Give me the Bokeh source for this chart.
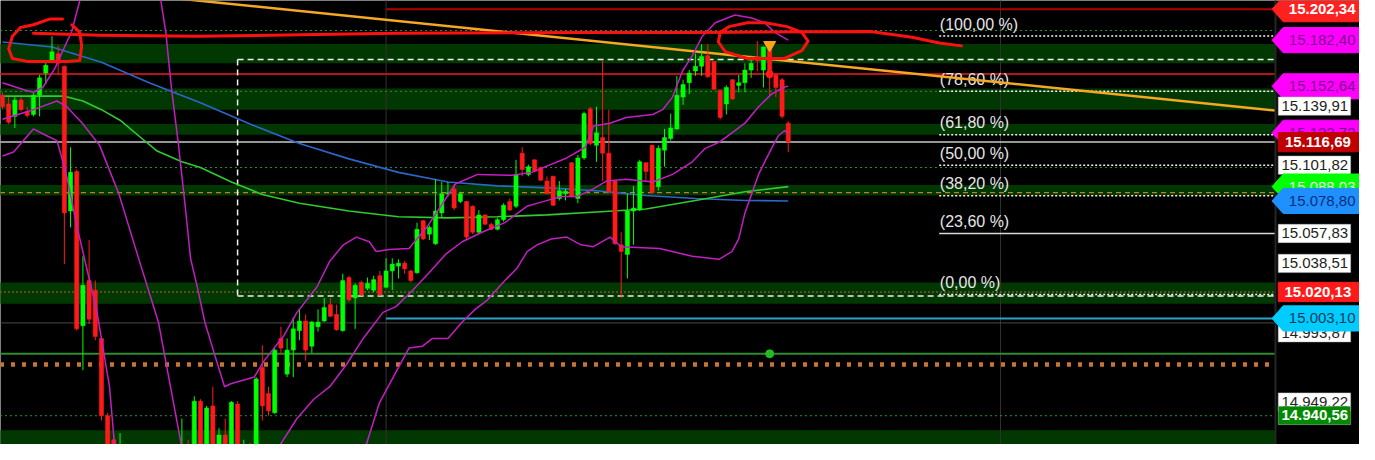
from bokeh.plotting import figure
from bokeh.models import Range1d, ColumnDataSource
from bokeh.embed import file_html
from bokeh.resources import INLINE
from bokeh.core.properties import value

# ---------------- candle data (price) ----------------
opens = [
    15146.9, 15141.3, 15133.3, 15143.8, 15136.4, 15134.5, 15146.9, 15161.2, 15168.7, 15173.7,
    15165.6, 15072.3, 15097.8, 14998.3, 15027.5, 15021.3, 14990.2, 14940.4, 14924.9, 14915.6,
    14918.7, 14910.6, 14906.2, 14911.8, 14905.6, 14903.1, 14909.3, 14904.4, 14911.8, 14915.6,
    14920.5, 14915.6, 14949.8, 14915.6, 14946.7, 14918.7, 14928.0, 14915.6, 14947.9, 14918.7,
    14920.5, 14915.6, 14971.5, 14954.7, 14942.3, 14990.2, 14967.2, 14982.7, 14995.2, 15001.4,
    14985.2, 14997.7, 15001.4, 15012.0, 15005.7, 14995.2, 15029.4, 15016.3, 15026.3, 15022.5,
    15021.3, 15030.6, 15023.2, 15033.7, 15036.8, 15038.7, 15033.7, 15032.5, 15066.1, 15057.4,
    15051.2, 15071.1, 15083.5, 15086.6, 15078.5, 15078.5, 15075.4, 15058.6, 15069.8, 15063.6,
    15060.5, 15066.7, 15078.5, 15075.4, 15109.6, 15095.9, 15105.3, 15100.3, 15091.6, 15094.7,
    15080.4, 15083.5, 15103.4, 15080.4, 15106.5, 15138.2, 15114.6, 15119.6, 15109.6, 15091.6,
    15050.5, 15044.3, 15072.3, 15072.9, 15103.4, 15114.6, 15087.9, 15111.5, 15119.0, 15125.2,
    15145.7, 15155.0, 15162.5, 15165.6, 15172.4, 15168.7, 15150.1, 15141.3, 15156.9, 15153.2,
    15155.0, 15163.1, 15170.6, 15163.1, 15176.8, 15160.0, 15156.9, 15128.9]
highs = [
    15148.8, 15145.7, 15145.7, 15145.7, 15139.5, 15148.2, 15160.0, 15169.3, 15184.9, 15178.7,
    15166.0, 15113.4, 15099.0, 15043.1, 15053.6, 15027.5, 14991.4, 14942.3, 14928.0, 14929.2,
    14921.8, 14915.6, 14915.6, 14915.6, 14910.6, 14912.4, 14914.3, 14915.6, 14918.7, 14938.6,
    14924.9, 14952.9, 14951.0, 14946.7, 14959.1, 14932.4, 14938.6, 14949.8, 14949.8, 14924.9,
    14923.0, 14965.3, 14985.8, 14959.1, 14984.0, 14997.7, 14990.2, 15003.9, 15008.9, 15005.7,
    15001.4, 15008.9, 15016.3, 15016.3, 15012.0, 15031.9, 15030.6, 15025.7, 15027.5, 15029.4,
    15030.6, 15033.7, 15041.8, 15041.8, 15041.2, 15040.0, 15034.4, 15064.8, 15066.5, 15063.0,
    15092.8, 15091.0, 15091.0, 15089.7, 15084.7, 15078.8, 15076.0, 15072.9, 15070.2, 15064.8,
    15067.9, 15077.3, 15080.4, 15105.3, 15113.4, 15102.2, 15105.6, 15100.9, 15094.7, 15095.0,
    15091.6, 15086.6, 15103.8, 15108.4, 15136.4, 15139.5, 15139.5, 15169.3, 15137.6, 15092.0,
    15058.6, 15083.5, 15088.5, 15105.3, 15103.8, 15115.0, 15114.6, 15125.2, 15135.1, 15159.4,
    15156.9, 15163.1, 15173.7, 15179.9, 15179.9, 15169.0, 15150.5, 15153.2, 15157.3, 15160.0,
    15167.5, 15172.4, 15181.8, 15178.4, 15178.0, 15161.2, 15158.1, 15130.1]
lows = [
    15138.2, 15128.3, 15125.8, 15136.4, 15132.6, 15133.3, 15133.3, 15153.8, 15167.5, 15160.0,
    15038.1, 15061.7, 14995.2, 14969.7, 14999.5, 14989.0, 14937.3, 14915.6, 14915.6, 14912.4,
    14909.3, 14903.1, 14901.9, 14903.1, 14900.0, 14900.0, 14901.9, 14900.0, 14909.3, 14912.4,
    14910.6, 14912.4, 14912.4, 14912.4, 14915.6, 14915.6, 14909.3, 14912.4, 14912.4, 14909.3,
    14906.2, 14912.4, 14937.3, 14940.4, 14941.7, 14979.6, 14965.3, 14965.3, 14989.0, 14975.9,
    14980.9, 14994.6, 15000.8, 15003.9, 14995.2, 14994.6, 15013.8, 14996.4, 15017.6, 15021.3,
    15020.1, 15017.6, 15022.5, 15021.3, 15028.8, 15031.9, 15026.3, 15031.9, 15053.6, 15053.6,
    15050.5, 15067.9, 15081.6, 15072.9, 15077.3, 15053.6, 15057.4, 15057.4, 15063.4, 15059.9,
    15059.9, 15065.5, 15072.3, 15074.2, 15094.7, 15094.7, 15097.2, 15091.6, 15083.2, 15075.4,
    15079.1, 15079.1, 15081.2, 15077.3, 15105.3, 15114.6, 15104.0, 15091.6, 15083.5, 15050.5,
    15016.3, 15028.8, 15050.5, 15072.3, 15091.6, 15083.5, 15085.4, 15100.9, 15117.7, 15124.6,
    15140.7, 15147.6, 15159.4, 15159.4, 15158.1, 15150.1, 15131.4, 15134.5, 15143.8, 15148.8,
    15148.8, 15158.1, 15162.5, 15151.9, 15146.9, 15145.7, 15132.0, 15110.2]
closes = [
    15139.5, 15129.5, 15143.8, 15137.6, 15133.9, 15146.9, 15158.1, 15166.2, 15174.9, 15167.5,
    15071.1, 15097.2, 14996.4, 15024.4, 15002.6, 14991.4, 14940.4, 14918.7, 14920.5, 14920.5,
    14910.6, 14906.2, 14912.4, 14905.6, 14903.1, 14909.3, 14904.4, 14911.8, 14916.8, 14920.5,
    14914.3, 14949.8, 14915.6, 14945.4, 14920.5, 14928.0, 14915.6, 14949.1, 14918.7, 14920.5,
    14912.4, 14964.1, 14946.7, 14943.5, 14982.7, 14984.0, 14982.7, 14996.4, 15001.4, 14982.7,
    15000.8, 15000.8, 15010.1, 15004.5, 14995.8, 15027.5, 15015.1, 15024.4, 15018.2, 15025.7,
    15028.1, 15018.2, 15033.7, 15038.1, 15038.7, 15035.0, 15027.5, 15060.5, 15054.3, 15061.7,
    15072.3, 15083.5, 15084.1, 15074.2, 15083.5, 15055.5, 15058.6, 15069.8, 15063.8, 15060.5,
    15066.7, 15076.0, 15072.9, 15095.9, 15099.0, 15100.9, 15097.8, 15092.2, 15083.5, 15076.0,
    15085.4, 15085.0, 15081.6, 15106.5, 15135.1, 15115.8, 15122.7, 15109.6, 15084.7, 15051.2,
    15046.2, 15072.3, 15074.2, 15104.0, 15097.8, 15084.1, 15112.7, 15119.6, 15125.8, 15146.9,
    15153.8, 15161.2, 15165.6, 15171.8, 15158.8, 15150.7, 15132.6, 15151.9, 15144.5, 15155.0,
    15163.1, 15167.5, 15169.3, 15178.0, 15158.1, 15151.9, 15133.3, 15116.69]
bar_index = list(range(len(closes)))

# ---------------- indicators (bar, price) ----------------
ma_blue_x = [0, 8, 16, 24, 32, 40, 48, 56, 64, 72, 80, 88, 96, 104, 112, 120, 127]
ma_blue_y = [15181.2, 15178.0, 15168.1, 15154.4, 15142.0, 15128.3, 15115.8, 15105.9, 15097.2,
             15091.0, 15088.5, 15087.2, 15085.4, 15082.3, 15080.4, 15079.1, 15078.80]
ma_green_x = [0, 8, 10, 13, 16, 19, 22, 25, 29, 32, 37, 42, 48, 56, 64, 72, 80, 88, 96, 104, 112, 120, 127]
ma_green_y = [15146.3, 15146.3, 15146.3, 15143.2, 15137.6, 15130.8, 15120.8, 15110.9, 15104.0,
              15100.3, 15091.0, 15082.9, 15077.3, 15072.3, 15068.6, 15067.9, 15068.6, 15069.8,
              15071.7, 15073.6, 15079.1, 15084.7, 15088.03]

bb_upper_x = [0, 3.7, 5.0, 6.5, 8.5, 10.4, 11.2, 11.8, 12.5, 15.0, 19.0, 22.5, 24.5, 25.6, 26.4,
              27.3, 28.4, 29.6, 30.4, 31.6, 32.7, 34.3, 35.9, 36.9, 40.7, 42.3, 45.5, 47.6, 50.8,
              52.9, 55.1, 57.2, 59.3, 60.4, 62.5, 65.7, 68.8, 73.2, 76.8, 82.3, 85.5, 91.2, 94.2,
              95.5, 98.2, 100.8, 105.1, 106.7, 108.3, 109.9, 111.5, 113.1, 115.2, 118.4, 121.1,
              123.2, 124.8, 127]
bb_upper_y = [15155.0, 15150.1, 15148.8, 15151.9, 15164.4, 15181.2, 15188.0, 15197.3, 15207.9,
              15239.0, 15257.0, 15245.0, 15220.0, 15207.9, 15187.4, 15151.9, 15116.5, 15072.9,
              15041.8, 15021.3, 15000.8, 14979.6, 14959.1, 14961.0, 14965.3, 14975.9, 14992.1,
              15007.0, 15023.2, 15040.0, 15050.5, 15055.5, 15052.5, 15046.2, 15047.5, 15048.1,
              15063.0, 15089.7, 15095.9, 15095.3, 15097.2, 15106.5, 15113.4, 15127.1, 15128.9,
              15132.6, 15134.5, 15137.6, 15145.7, 15162.5, 15172.4, 15184.9, 15193.6, 15198.6,
              15196.7, 15193.6, 15187.4, 15182.40]
bb_mid_x = [0, 5.0, 8.8, 10.4, 12.9, 15.7, 18.8, 22.0, 25.2, 28.9, 33.2, 38.0, 42.0, 44.9, 47.6,
            50.3, 52.9, 55.6, 58.3, 61.5, 63.6, 66.3, 68.8, 71.6, 74.3, 77.5, 81.2, 84.8, 87.5,
            90.3, 92.8, 95.5, 97.6, 100.8, 105.1, 108.3, 111.5, 113.6, 115.8, 117.9, 120.0,
            122.2, 124.3, 126.4, 127]
bb_mid_y = [15131.4, 15137.6, 15143.2, 15139.5, 15128.9, 15114.6, 15083.5, 15041.8, 15000.8,
            14921.8, 14878.3, 14872.0, 14896.9, 14921.8, 14938.6, 14951.0, 14959.1, 14973.4,
            14990.2, 15007.0, 15010.7, 15021.3, 15031.9, 15044.3, 15052.5, 15058.6, 15064.8,
            15075.4, 15078.5, 15081.6, 15081.6, 15086.6, 15091.6, 15092.8, 15091.0, 15095.9,
            15104.0, 15112.7, 15116.5, 15122.7, 15128.9, 15139.5, 15147.6, 15152.2, 15152.64]
bb_low_x = [0, 1.8, 5.0, 6.5, 8.8, 9.6, 10.4, 12.0, 13.6, 15.2, 17.3, 18.1, 23.6, 31.6, 39.6,
            47.6, 55.6, 58.8, 60.9, 63.6, 65.7, 67.9, 69.5, 72.0, 74.3, 76.4, 78.4, 81.2, 83.2,
            84.8, 86.4, 88.7, 91.2, 93.5, 95.5, 98.2, 100.0, 106.2, 111.5, 115.8, 117.9, 119.0,
            120.0, 121.1, 122.2, 123.2, 124.3, 125.4, 126.4, 127]
bb_low_y = [15107.8, 15110.3, 15125.2, 15122.1, 15117.7, 15106.5, 15094.1, 15063.0, 15035.6,
            15008.9, 14959.1, 14921.8, 14859.6, 14822.3, 14822.3, 14847.2, 14896.9, 14921.8,
            14948.5, 14968.5, 14984.0, 14985.2, 14990.2, 14990.2, 15000.8, 15008.9, 15015.1,
            15027.5, 15035.6, 15046.2, 15050.5, 15054.3, 15055.5, 15050.5, 15049.3, 15055.5,
            15049.3, 15048.1, 15043.1, 15041.2, 15046.2, 15054.3, 15071.1, 15083.5, 15095.9,
            15104.0, 15112.7, 15120.8, 15124.0, 15122.72]

trend_x = [27.6, 205.75]
trend_y = [15209.5, 15137.0]

# support / resistance zones and levels
zone_bottom = [15167.5, 15137.6, 15121.5, 15082.3, 15012.6, 14910.0]
zone_top = [15179.9, 15151.3, 15128.3, 15089.1, 15026.3, 14931.0]

lvl_price = [15202.34, 15188.6, 15160.6, 15149.4, 15116.69, 15100.3, 15084.1, 15020.1,
             15003.10, 15000.2, 14980.3, 14973.4, 14940.4]
lvl_start = [62.0, -0.4, -0.4, -0.4, -0.4, -0.4, -0.4, -0.4, 62.0, -0.4, -0.4, -0.4, -0.4]
lvl_color = ["#b40000", "#2f8f2f", "#b31414", "#2f8f2f", "#c8c8c8", "#2f8f2f", "#c87a28",
             "#b8622a", "#2aa5c8", "#4a4a4a", "#2e8b2e", "#c87533", "#2f8f2f"]
lvl_width = [2, 1, 2, 1, 1.5, 1, 1.2, 1, 2, 1, 2, 4.5, 1]
lvl_dash = ["solid", "2 3", "solid", "2 3", "solid", "2 3", "5 4", "2 2", "solid", "solid",
            "solid", "4 7", "2 3"]

# fibonacci retracement
fib_labels = ["(100,00 %)", "(78,60 %)", "(61,80 %)", "(50,00 %)", "(38,20 %)", "(23,60 %)", "(0,00 %)"]
fib_price = [15185.1, 15149.5, 15121.5, 15101.82, 15082.1, 15057.83, 15018.5]
fib_box = dict(left=38.0, top=15170.0, bottom=15017.6)

# signals on bar 124
sig_bar = 124
sig_triangle = 15179.3
sig_red_dot = 15160.6
sig_green_dot = 14980.3

# hand-drawn annotations (bar, price)
hand_circle_l_x = [9.7, 7.7, 5.0, 2.9, 1.6, 1.0, 1.6, 4.0, 7.7, 10.4, 12.5, 12.8, 12.5, 11.7, 11.2]
hand_circle_l_y = [15196.1, 15196.1, 15192.3, 15190.5, 15184.9, 15176.8, 15170.6, 15168.7,
                   15168.7, 15168.7, 15169.3, 15178.7, 15187.4, 15190.5, 15192.3]
hand_line_x = [5.0, 15.7, 31.6, 63.6, 95.5, 111.5, 140.3, 147.0, 151.4, 155.0]
hand_line_y = [15186.8, 15185.5, 15184.9, 15186.8, 15187.4, 15187.4, 15188.0, 15184.3, 15180.5, 15178.7]
hand_circle_r_x = [116.0, 117.4, 120.4, 123.3, 126.8, 129.2, 130.2, 129.2, 126.4, 120.4, 116.8, 115.7, 116.0]
hand_circle_r_y = [15187.4, 15191.1, 15193.6, 15193.6, 15191.1, 15187.4, 15181.8, 15175.6,
                   15170.6, 15170.6, 15175.0, 15181.2, 15187.4]

# price tags on the right scale (draw order)
tag_values = [15202.34, 15182.40, 15152.64, 15139.91, 15122.72, 15116.69, 15101.82, 15088.03,
              15078.80, 15057.83, 15038.51, 15020.13, 14993.87, 15003.10, 14949.22, 14940.56]
tag_labels = ["15.202,34", "15.182,40", "15.152,64", "15.139,91", "15.122,72", "15.116,69",
              "15.101,82", "15.088,03", "15.078,80", "15.057,83", "15.038,51", "15.020,13",
              "14.993,87", "15.003,10", "14.949,22", "14.940,56"]
tag_shape = ["arrow", "arrow", "arrow", "box", "arrow", "rect", "box", "arrow", "arrow", "box",
             "box", "rect", "box", "arrow", "box", "box"]
tag_fill = ["#ff2020", "#ff00ff", "#ff00ff", "#ffffff", "#ff00ff", "#c00000", "#ffffff",
            "#00ff00", "#1e90ff", "#ffffff", "#ffffff", "#ff1a1a", "#ffffff", "#00ccff",
            "#ffffff", "#008a00"]
tag_text_color = ["#ffffff", "#7b0a8a", "#7b0a8a", "#222222", "#7b0a8a", "#ffffff", "#222222",
                  "#e8ffe8", "#0b2f7a", "#222222", "#222222", "#ffffff", "#222222", "#0a3a5a",
                  "#222222", "#ffffff"]
tag_bold = [True, False, False, False, False, True, False, False, False, False, False, True,
            False, False, False, True]

# ---------------- figure ----------------
X0, X1 = -0.32, 219.33
Y0, Y1 = 14921.86, 15207.94
AXIS_X = 205.75

p = figure(width=1359, height=444, output_backend="svg", toolbar_location=None,
           x_range=Range1d(X0, X1), y_range=Range1d(Y0, Y1),
           x_axis_location=None, y_axis_location=None, min_border=0,
           background_fill_color="#000000", border_fill_color="#000000")
p.grid.visible = False
p.outline_line_color = None

FONT = value("Liberation Sans")

# zones
p.quad(left=[X0 - 1] * len(zone_top), right=[AXIS_X] * len(zone_top),
       bottom=zone_bottom, top=zone_top, fill_color="#013801", line_color=None)

# vertical session separators
p.segment(x0=[62.0, 161.3], x1=[62.0, 161.3], y0=[Y0 - 10] * 2, y1=[Y1 + 10] * 2,
          line_color="#333333", line_width=1)

# level lines
for pr, xs, col, w, d in zip(lvl_price, lvl_start, lvl_color, lvl_width, lvl_dash):
    p.segment(x0=[xs], x1=[AXIS_X], y0=[pr], y1=[pr], line_color=col, line_width=w, line_dash=d)

# fibonacci box (dashed)
p.multi_line(xs=[[fib_box["left"], fib_box["left"]], [fib_box["left"], AXIS_X], [fib_box["left"], AXIS_X]],
             ys=[[fib_box["top"], fib_box["bottom"]], [fib_box["top"], fib_box["top"]],
                 [fib_box["bottom"], fib_box["bottom"]]],
             line_color="#f0f0f0", line_width=1.5, line_dash="6 4")
FIB_X = 151.4
for lab, pr in zip(fib_labels, fib_price):
    if lab == "(23,60 %)":
        p.segment(x0=[FIB_X], x1=[AXIS_X], y0=[pr], y1=[pr], line_color="#d8d8d8", line_width=1.5)
    else:
        p.segment(x0=[FIB_X], x1=[AXIS_X], y0=[pr], y1=[pr], line_color="#f4f4f4",
                  line_width=1.5, line_dash="2 2")
p.text(x=[FIB_X + 0.1] * len(fib_price), y=[v + 2.2 for v in fib_price], text=fib_labels,
       text_font=FONT, text_font_size="16px", text_color="#e6e6e6",
       text_baseline="bottom", text_align="left")

# moving averages
p.line(ma_blue_x, ma_blue_y, line_color="#2a66cc", line_width=1.6)
p.line(ma_green_x, ma_green_y, line_color="#2ecc2e", line_width=1.6)

# trend line
p.line(trend_x, trend_y, line_color="#f5a823", line_width=2.5)

# candles
colors = ["#00ff00" if c >= o else "#ff1a1a" for o, c in zip(opens, closes)]
src = ColumnDataSource(dict(
    x=bar_index, h=highs, l=lows,
    top=[max(o, c) for o, c in zip(opens, closes)],
    bottom=[min(o, c) for o, c in zip(opens, closes)],
    color=colors))
p.segment(x0="x", y0="h", x1="x", y1="l", line_color="color", line_width=1, source=src)
p.vbar(x="x", width=0.68, top="top", bottom="bottom", fill_color="color", line_color="color",
       line_width=0.5, source=src)

# bollinger bands
for bx, by in ((bb_upper_x, bb_upper_y), (bb_mid_x, bb_mid_y), (bb_low_x, bb_low_y)):
    p.line(bx, by, line_color="#c21fc2", line_width=1.5)

# signals
p.scatter([sig_bar], [sig_triangle], marker="inverted_triangle", size=12,
          fill_color="#ffa31a", line_color="#ffa31a")
p.scatter([sig_bar], [sig_red_dot], marker="circle", size=7, fill_color="#ff1a1a", line_color="#ff1a1a")
p.scatter([sig_bar], [sig_green_dot], marker="circle", size=8, fill_color="#22bb22", line_color="#22bb22")

# hand-drawn marks
for hx, hy in ((hand_circle_l_x, hand_circle_l_y), (hand_line_x, hand_line_y),
               (hand_circle_r_x, hand_circle_r_y)):
    p.line(hx, hy, line_color="#ff1010", line_width=3, line_join="round", line_cap="round")

# price scale separator
p.segment(x0=[AXIS_X], x1=[AXIS_X], y0=[Y0 - 10], y1=[Y1 + 10], line_color="#262626", line_width=2)

# price tags
ARROW_H = 8.1
BOX_H = 5.9
for v, lab, shp, fc, tc, bold in zip(tag_values, tag_labels, tag_shape, tag_fill,
                                      tag_text_color, tag_bold):
    if shp == "arrow":
        p.patch([205.2, 207.0, 219.6, 219.6, 207.0], [v, v + ARROW_H, v + ARROW_H, v - ARROW_H, v - ARROW_H],
                fill_color=fc, line_color=fc)
        tx = 213.3
    elif shp == "rect":
        p.quad(left=[206.2], right=[219.6], bottom=[v - 6.2], top=[v + 6.2],
               fill_color=fc, line_color=fc)
        tx = 212.6
    else:
        p.quad(left=[206.2], right=[217.9], bottom=[v - BOX_H], top=[v + BOX_H],
               fill_color=fc, line_color="#bbbbbb", line_width=0.5)
        tx = 212.1
    p.text(x=[tx], y=[v], text=[lab], text_font=FONT, text_font_size="15px",
           text_color=tc, text_align="center", text_baseline="middle",
           text_font_style="bold" if bold else "normal")

open("out.html", "w").write(file_html(p, INLINE, title="chart"))
